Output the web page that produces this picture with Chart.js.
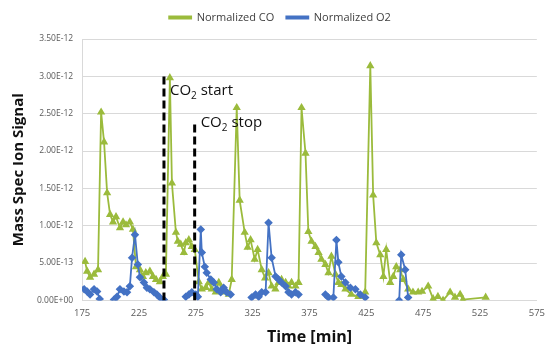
<!DOCTYPE html>
<html>
<head>
<meta charset="utf-8">
<script src="https://cdn.jsdelivr.net/npm/chart.js@4"></script>
<style>
    html, body { margin: 0; padding: 0; background: #ffffff; }
    #wrap { width: 552px; height: 347px; }
</style>
</head>
<body>
<div id="wrap"><canvas id="signal-chart" width="552" height="347"></canvas></div>
<script>
// Signals are in units of 1E-12
const coTime = [177.6, 179.4, 182, 185.5, 189, 191.7, 194.3, 197, 199.6, 202.2, 204.8, 208.3, 211, 213.6, 217, 219.7,
    222.4, 225.9, 228.5, 231, 234.6, 237.3, 240, 243.4, 246, 248.7, 252.2, 254, 257.5, 259.2, 261.8, 264.5, 266.2,
    268.9, 271.5, 274.1, 277.6, 280.3, 283.8, 286.4, 289, 292.5, 295.2, 297.8, 301.3, 304, 306.6, 311, 313.6, 318,
    320.6, 323.2, 326.8, 329.4, 333, 336, 339, 341.7, 345, 347.8, 350.4, 354, 356.6, 359.2, 362.7, 365.4, 368,
    371.5, 374, 376.8, 380.3, 383, 385.5, 389, 391.7, 394.3, 397.8, 400.4, 403, 406.6, 411.8, 418, 424, 428.5, 431,
    433.8, 437.3, 440, 442.5, 446, 448.7, 451.3, 454.8, 457.5, 461.8, 466, 470.6, 474, 479.4, 483.8, 488, 492.5,
    498.7, 503, 507.5, 510, 530];
const coSignal = [0.52, 0.39, 0.31, 0.35, 0.41, 2.52, 2.12, 1.44, 1.15, 1.05, 1.12, 0.97, 1.05, 1.01, 1.05, 0.95,
    0.45, 0.41, 0.32, 0.37, 0.39, 0.32, 0.28, 0.25, 0.32, 0.35, 2.98, 1.57, 0.91, 0.79, 0.75, 0.64, 0.77,
    0.81, 0.72, 0.68, 0.25, 0.15, 0.17, 0.24, 0.15, 0.11, 0.24, 0.15, 0.11, 0.08, 0.28, 2.58, 1.34, 0.91,
    0.71, 0.81, 0.55, 0.68, 0.41, 0.3, 0.37, 0.19, 0.15, 0.24, 0.28, 0.24, 0.19, 0.24, 0.19, 0.24, 2.58,
    1.97, 0.92, 0.79, 0.72, 0.64, 0.55, 0.48, 0.37, 0.59, 0.35, 0.24, 0.21, 0.15, 0.08, 0.05, 0.11, 3.14, 1.41,
    0.77, 0.61, 0.32, 0.68, 0.24, 0.32, 0.45, 0.41, 0.28, 0.15, 0.11, 0.11, 0.12, 0.19, 0.02, 0.05, 0.0,
    0.11, 0.04, 0.08, 0.01, 0.04];

// null entries break the O2 trace where the reference has gaps
const o2Time = [173.2, 176.8, 179.4, 182, 185.5, 188.2, 190.5, 191,
    203, 205.7, 208.3, 211.8, 214.5, 217, 218.9, 221.5, 224, 225.9, 229.4, 232, 234.6, 238.2, 240.8, 243.4, 247, 248,
    266.2, 268.9, 271.5, 275, 276.8, 279.4, 280.3, 282.9, 284.6, 288.2, 290.8, 293.4, 296.9, 299.5, 302.2, 305.7, 306,
    324.1, 327.6, 330.3, 333, 336.4, 339, 341.7, 345.2, 347.8, 350.4, 354, 356.6, 359.2, 362.7, 365.4, 366,
    389, 391.7, 396, 398.7, 400.4, 403, 406.6, 411, 415.4, 419.7, 424, 425,
    453.9, 455.7, 459.2, 461.8];
const o2Signal = [0.16, 0.15, 0.12, 0.08, 0.15, 0.12, 0.02, null,
    0.01, 0.05, 0.15, 0.12, 0.11, 0.19, 0.57, 0.88, 0.48, 0.31, 0.24, 0.17, 0.15, 0.11, 0.08, 0.04, 0.01, null,
    0.05, 0.08, 0.11, 0.08, 0.05, 0.95, 0.64, 0.45, 0.37, 0.28, 0.24, 0.15, 0.11, 0.17, 0.11, 0.08, null,
    0.04, 0.08, 0.05, 0.11, 0.11, 1.04, 0.57, 0.32, 0.28, 0.24, 0.19, 0.11, 0.08, 0.11, 0.08, null,
    0.08, 0.04, 0.04, 0.81, 0.51, 0.32, 0.24, 0.17, 0.15, 0.08, 0.04, null,
    0.0, 0.61, 0.41, 0.04];

const co2StartTime = 247;
const co2StartTop = 3.01;
const co2StopTime = 274;
const co2StopTop = 2.38;

const xTickStart = 175;
const xTickEnd = 575;
const xTickStep = 50;
const yTickMax = 3.5;
const yTickStep = 0.5;

const toPoints = (xs, ys) => xs.map((x, i) => ({ x: x, y: ys[i] }));

const formatSignal = (value) => {
    // Excel style scientific label, e.g. 5.00E-13
    const parts = (value * 1e-12).toExponential(2).split('e');
    const sign = parts[1][0];
    const digits = parts[1].slice(1).padStart(2, '0');
    return `${parts[0]}E${sign}${digits}`;
};

// Extra room under the legend so the plot starts lower
const legendGap = {
    id: 'legendGap',
    beforeInit(chart) {
        const originalFit = chart.legend.fit;
        chart.legend.fit = function fit() {
            originalFit.bind(chart.legend)();
            this.height += 6;
        };
    }
};

const co2Labels = {
    id: 'co2Labels',
    afterDatasetsDraw(chart) {
        const ctx = chart.ctx;
        const xScale = chart.scales.x;
        const yScale = chart.scales.y;
        const drawLabel = (time, value, rest) => {
            let x = xScale.getPixelForValue(time) + 6;
            const y = yScale.getPixelForValue(value);
            ctx.save();
            ctx.fillStyle = '#111111';
            ctx.textBaseline = 'alphabetic';
            ctx.font = '15px "Open Sans", sans-serif';
            ctx.fillText('CO', x, y);
            x += ctx.measureText('CO').width;
            ctx.font = '10px "Open Sans", sans-serif';
            ctx.fillText('2', x, y + 4);
            x += ctx.measureText('2').width;
            ctx.font = '15px "Open Sans", sans-serif';
            ctx.fillText(rest, x, y);
            ctx.restore();
        };
        drawLabel(co2StartTime, 2.75, ' start');
        drawLabel(co2StopTime, 2.32, ' stop');
    }
};

const renderSignalChart = () => {
    const ctx = document.querySelector('canvas#signal-chart').getContext('2d');

    const signalChart = new Chart(ctx, {
        type: 'scatter',
        data: {
            datasets: [
                {
                    label: 'Normalized CO',
                    data: toPoints(coTime, coSignal),
                    showLine: true,
                    borderColor: '#9bbb3c',
                    backgroundColor: '#9bbb3c',
                    borderWidth: 1.8,
                    pointStyle: 'triangle',
                    pointRadius: 3,
                    order: 2
                },
                {
                    label: 'Normalized O2',
                    data: toPoints(o2Time, o2Signal),
                    showLine: true,
                    spanGaps: false,
                    borderColor: '#4472c4',
                    backgroundColor: '#4472c4',
                    borderWidth: 1.8,
                    pointStyle: 'rectRot',
                    pointRadius: 3,
                    order: 1
                },
                {
                    label: 'co2-start',
                    data: [{ x: co2StartTime, y: 0 }, { x: co2StartTime, y: co2StartTop }],
                    showLine: true,
                    borderColor: '#000000',
                    borderWidth: 3,
                    borderDash: [8, 4],
                    pointRadius: 0,
                    order: 0
                },
                {
                    label: 'co2-stop',
                    data: [{ x: co2StopTime, y: 0 }, { x: co2StopTime, y: co2StopTop }],
                    showLine: true,
                    borderColor: '#000000',
                    borderWidth: 3,
                    borderDash: [8, 4],
                    pointRadius: 0,
                    order: 0
                }
            ]
        },
        options: {
            responsive: false,
            animation: false,
            layout: {
                padding: { left: 10, right: 2, top: 0, bottom: 0 }
            },
            plugins: {
                legend: {
                    display: true,
                    position: 'top',
                    labels: {
                        filter: (item) => item.text.startsWith('Normalized'),
                        sort: (a, b) => a.datasetIndex - b.datasetIndex,
                        boxWidth: 22,
                        boxHeight: 2,
                        color: '#404040',
                        padding: 12,
                        font: { family: 'Open Sans', size: 11 }
                    }
                },
                tooltip: { enabled: false }
            },
            scales: {
                x: {
                    type: 'linear',
                    min: xTickStart,
                    max: xTickEnd,
                    grid: {
                        display: false,
                        drawTicks: false
                    },
                    border: { color: '#d9d9d9' },
                    ticks: {
                        stepSize: xTickStep,
                        color: '#595959',
                        padding: 7,
                        font: { family: 'Open Sans', size: 9.5 }
                    },
                    title: {
                        display: true,
                        text: 'Time [min]',
                        color: '#111111',
                        padding: { top: 2, bottom: 0 },
                        font: { family: 'Open Sans', size: 16, weight: 'bold' }
                    }
                },
                y: {
                    min: 0,
                    max: yTickMax,
                    grid: {
                        color: '#d9d9d9',
                        drawTicks: false
                    },
                    border: { color: '#d9d9d9' },
                    ticks: {
                        stepSize: yTickStep,
                        color: '#595959',
                        padding: 9,
                        font: { family: 'Open Sans', size: 8.5 },
                        callback: (value) => formatSignal(value)
                    },
                    title: {
                        display: true,
                        text: 'Mass Spec Ion Signal',
                        color: '#111111',
                        padding: { top: 0, bottom: 0 },
                        font: { family: 'Open Sans', size: 15, weight: 'bold' }
                    }
                }
            }
        },
        plugins: [legendGap, co2Labels]
    });

    return signalChart;
};

document.addEventListener('DOMContentLoaded', () => {
    renderSignalChart();
});
</script>
</body>
</html>
